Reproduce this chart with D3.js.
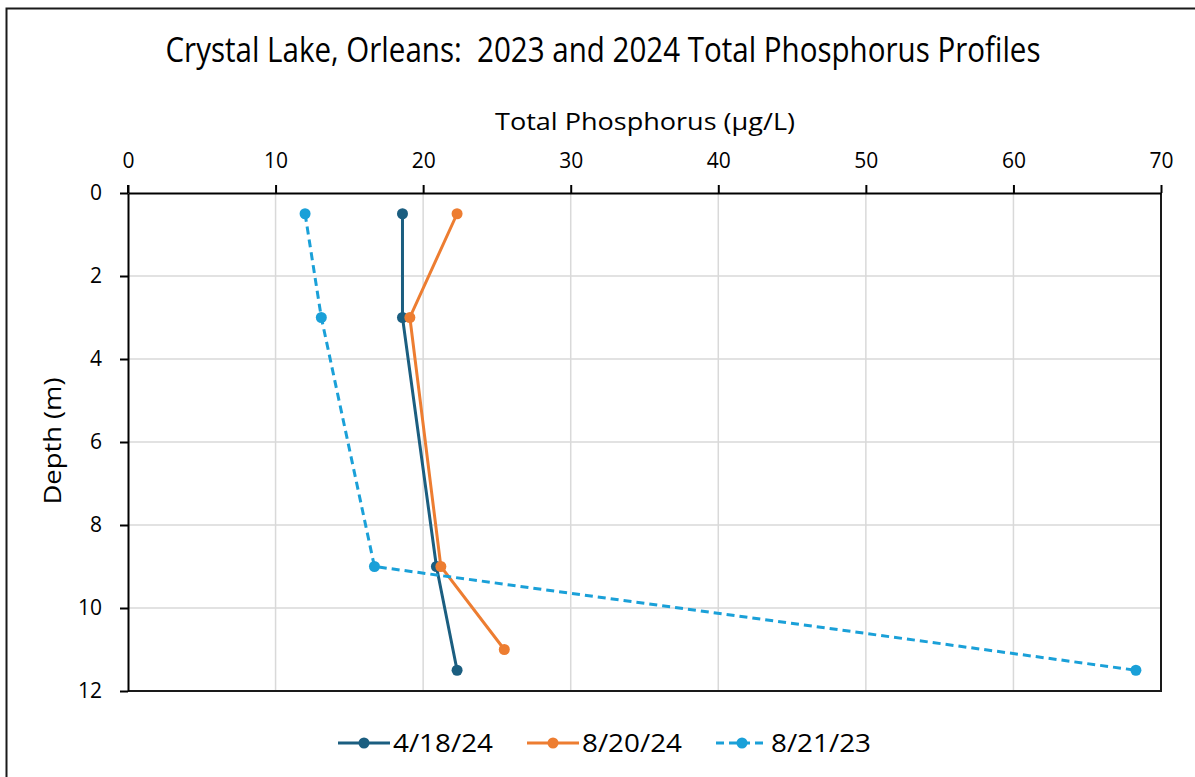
<!DOCTYPE html>
<html>
<head>
<meta charset="utf-8">
<script src="https://d3js.org/d3.v7.min.js"></script>
<style>
  body { margin: 0; background: #fff; }
  text { font-family: "Open Sans", sans-serif; fill: #000; }
</style>
</head>
<body>
<svg width="1195" height="777"></svg>
<script>
// data
var seriesNames = ["4/18/24", "8/20/24", "8/21/23"];
var depth1 = [0.5, 3, 9, 11.5];
var tp1 = [18.6, 18.6, 20.9, 22.3];
var depth2 = [0.5, 3, 9, 11];
var tp2 = [22.3, 19.1, 21.2, 25.5];
var depth3 = [0.5, 3, 9, 11.5];
var tp3 = [12, 13.1, 16.7, 68.3];
var xTicks = [0, 10, 20, 30, 40, 50, 60, 70];
var yTicks = [0, 2, 4, 6, 8, 10, 12];

var colors = ["#1b5e80", "#ed7d31", "#1aa0d8"];
var dashes = [null, null, "8,5"];

var series = seriesNames.map(function(name, i) {
  var d = [depth1, depth2, depth3][i], v = [tp1, tp2, tp3][i];
  return { name: name, color: colors[i], dash: dashes[i],
           points: d.map(function(dd, j) { return { depth: dd, tp: v[j] }; }) };
});

var svg = d3.select("svg");
var plotL = 128, plotR = 1161, plotT = 193, plotB = 691;

// outer chart border
svg.append("rect").attr("x", 6.5).attr("y", 8.5).attr("width", 1200).attr("height", 800)
  .attr("fill", "none").attr("stroke", "#1a1a1a").attr("stroke-width", 2);

var x = d3.scaleLinear().domain([0, 70]).range([plotL, plotR]);
var y = d3.scaleLinear().domain([0, 12]).range([plotT, plotB]);

// grid
svg.append("g").selectAll("line").data(xTicks.slice(1, -1)).enter().append("line")
  .attr("x1", function(d) { return x(d); }).attr("x2", function(d) { return x(d); })
  .attr("y1", plotT).attr("y2", plotB).attr("stroke", "#d9d9d9").attr("stroke-width", 1.5);
svg.append("g").selectAll("line").data(yTicks.slice(1, -1)).enter().append("line")
  .attr("y1", function(d) { return y(d); }).attr("y2", function(d) { return y(d); })
  .attr("x1", plotL).attr("x2", plotR).attr("stroke", "#d9d9d9").attr("stroke-width", 1.5);

// plot frame (bottom/right)
svg.append("path").attr("d", "M" + plotL + "," + plotB + "H" + plotR + "V" + plotT)
  .attr("fill", "none").attr("stroke", "#1a1a1a").attr("stroke-width", 2);

var xAxis = svg.append("g").attr("transform", "translate(0," + plotT + ")")
  .call(d3.axisTop(x).tickValues(xTicks).tickSize(8).tickPadding(17).tickSizeOuter(0));
var yAxis = svg.append("g").attr("transform", "translate(" + plotL + ",0)")
  .call(d3.axisLeft(y).tickValues(yTicks).tickSize(8).tickPadding(18).tickSizeOuter(0));

[xAxis, yAxis].forEach(function(a) {
  a.select(".domain").attr("stroke", "#000").attr("stroke-width", 2);
  a.selectAll(".tick line").attr("stroke", "#000").attr("stroke-width", 2);
  a.selectAll(".tick text").style("font-size", "21px").attr("fill", "#000");
});
// vertical axis continues above the top axis
svg.append("line").attr("x1", plotL).attr("x2", plotL).attr("y1", plotT - 8).attr("y2", plotT)
  .attr("stroke", "#000").attr("stroke-width", 2);

// titles
svg.append("text").attr("x", 603).attr("y", 62).attr("text-anchor", "middle")
  .attr("textLength", 875).attr("lengthAdjust", "spacingAndGlyphs")
  .style("font-size", "34px").style("white-space", "pre")
  .text("Crystal Lake, Orleans:  2023 and 2024 Total Phosphorus Profiles");
svg.append("text").attr("x", 645).attr("y", 130).attr("text-anchor", "middle")
  .attr("textLength", 300).attr("lengthAdjust", "spacingAndGlyphs")
  .style("font-size", "24px").text("Total Phosphorus (\u00b5g/L)");
svg.append("text").attr("transform", "translate(61,441) rotate(-90)").attr("text-anchor", "middle")
  .attr("textLength", 127).attr("lengthAdjust", "spacingAndGlyphs")
  .style("font-size", "24px").text("Depth (m)");

// lines
var line = d3.line().x(function(d) { return x(d.tp); }).y(function(d) { return y(d.depth); });
series.forEach(function(s) {
  var g = svg.append("g");
  g.append("path").datum(s.points).attr("d", line).attr("fill", "none")
    .attr("stroke", s.color).attr("stroke-width", 3).attr("stroke-dasharray", s.dash);
  g.selectAll("circle").data(s.points).enter().append("circle")
    .attr("cx", function(d) { return x(d.tp); }).attr("cy", function(d) { return y(d.depth); })
    .attr("r", 5.5).attr("fill", s.color);
});

// legend
var legendX = [338, 527, 716];
var legend = svg.append("g").selectAll("g").data(series).enter().append("g")
  .attr("transform", function(d, i) { return "translate(" + legendX[i] + ",743)"; });
legend.append("line").attr("x1", 0).attr("x2", 52).attr("y1", 0).attr("y2", 0)
  .attr("stroke", function(d) { return d.color; }).attr("stroke-width", 3)
  .attr("stroke-dasharray", function(d) { return d.dash; });
legend.append("circle").attr("cx", 26).attr("r", 5.5).attr("fill", function(d) { return d.color; });
legend.append("text").attr("x", 55).attr("y", 9).attr("textLength", 100)
  .attr("lengthAdjust", "spacingAndGlyphs").style("font-size", "25px").text(function(d) { return d.name; });
</script>
</body>
</html>
